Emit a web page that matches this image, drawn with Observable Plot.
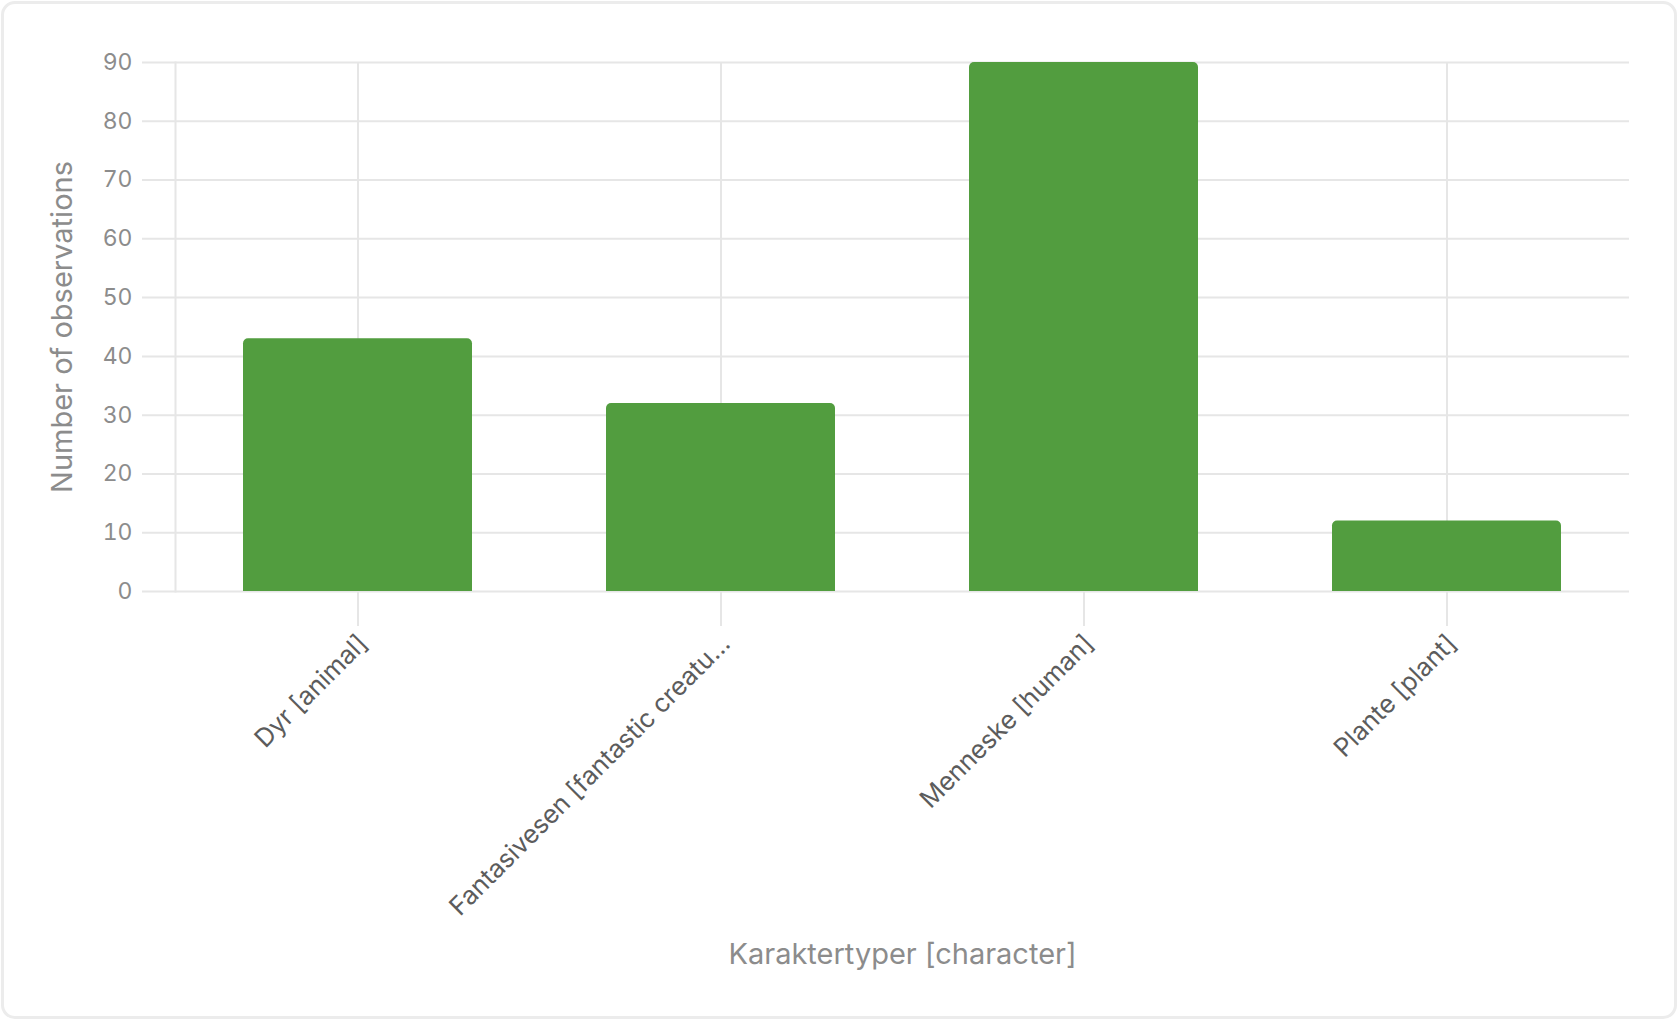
<!DOCTYPE html>
<html>
<head>
<meta charset="utf-8">
<script src="https://cdn.jsdelivr.net/npm/d3@7"></script>
<script src="https://cdn.jsdelivr.net/npm/@observablehq/plot@0.6"></script>
<style>
  html, body { margin: 0; padding: 0; background: #ffffff; }
  #card {
    position: absolute; left: 1px; top: 1px; width: 1670px; height: 1012px;
    border: 3px solid #ececec; border-radius: 14px; background: #fff;
  }
  #chart { position: absolute; left: 0; top: 0; }
</style>
</head>
<body>
<div id="card"></div>
<div id="chart"></div>
<script>
const categories = ["Dyr [animal]", "Fantasivesen [fantastic creature]", "Menneske [human]", "Plante [plant]"];
const counts = [43, 32, 90, 12];
const yTicks = [0, 10, 20, 30, 40, 50, 60, 70, 80, 90];
const xLabel = "Karaktertyper [character]";
const yLabel = "Number of observations";

const data = categories.map((c, i) => ({category: c, count: counts[i]}));
const trunc = s => s.length > 30 ? s.slice(0, 30) + "..." : s;
const grid = "#e6e6e6";

const chart = Plot.plot({
  width: 1678,
  height: 1021,
  marginLeft: 175,
  marginRight: 49,
  marginTop: 62,
  marginBottom: 430,
  style: {fontFamily: "Inter, 'Noto Sans', sans-serif", background: "transparent"},
  x: {domain: categories, range: [175, 1629], paddingInner: 0.37, paddingOuter: 0.185},
  y: {domain: [0, 90], range: [591, 62]},
  marks: [
    Plot.gridY(yTicks, {stroke: grid, strokeOpacity: 1, strokeWidth: 2, insetLeft: -33}),
    Plot.gridX(categories, {stroke: grid, strokeOpacity: 1, strokeWidth: 2}),
    Plot.frame({anchor: "left", stroke: grid, strokeWidth: 2, strokeOpacity: 1}),
    Plot.axisY(yTicks, {
      tickSize: 0, tickPadding: 43, fontSize: 23, fill: "#8c8c8c", label: null
    }),
    Plot.axisX({
      tickSize: 35, stroke: grid, strokeWidth: 2, strokeOpacity: 1, tickPadding: 0,
      text: null, label: null
    }),
    Plot.axisX({
      tickSize: 0, tickPadding: 48, dx: 5,
      tickRotate: -45, fontSize: 25.5, fill: "#5c5c5c", tickFormat: trunc, label: null
    }),
    Plot.barY(data, {x: "category", y: "count", fill: "#529d3f", ry1: 5}),
    Plot.text([xLabel], {frameAnchor: "bottom", dy: 372, fontSize: 29, fill: "#8c8c8c", text: d => d}),
    Plot.text([yLabel], {frameAnchor: "left", textAnchor: "middle", dx: -113, rotate: -90, fontSize: 29, fill: "#8c8c8c", text: d => d})
  ]
});
document.getElementById("chart").append(chart);
</script>
</body>
</html>
